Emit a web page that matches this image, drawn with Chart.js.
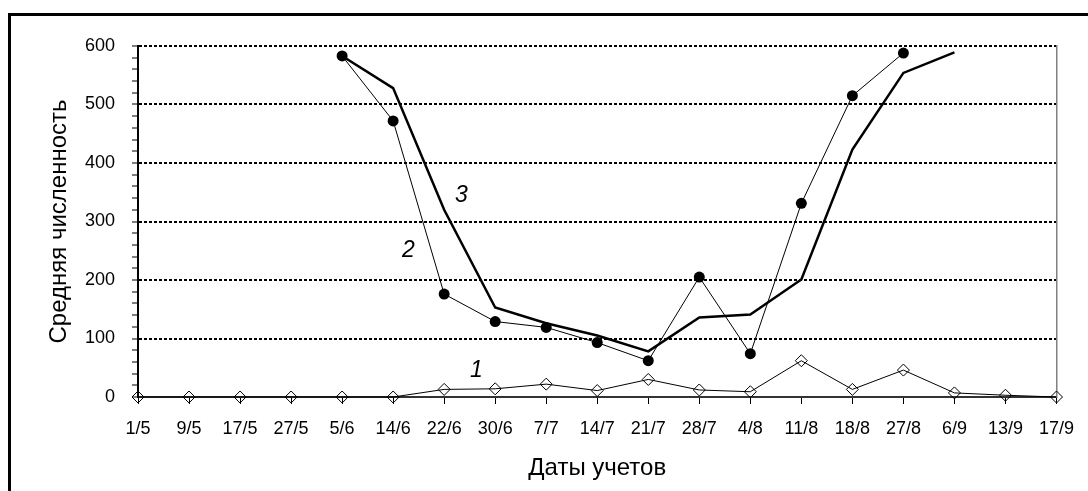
<!DOCTYPE html>
<html>
<head>
<meta charset="utf-8">
<script src="https://cdn.jsdelivr.net/npm/chart.js@4/dist/chart.umd.min.js"></script>
<style>
  html, body { margin: 0; padding: 0; background: #fff; }
  #wrap { position: relative; width: 1088px; height: 491px; overflow: hidden; }
  #frame { position: absolute; left: 8px; top: 13px; width: 2000px; height: 2000px;
           border-left: 3px solid #000; border-top: 3px solid #000; }
  #c { position: absolute; left: 0; top: 0; }
</style>
</head>
<body>
<div id="wrap">
  <div id="frame"></div>
  <canvas id="c" width="1088" height="491"></canvas>
</div>
<script>
// ---- data ----
const dates = ['1/5','9/5','17/5','27/5','5/6','14/6','22/6','30/6','7/7','14/7','21/7','28/7','4/8','11/8','18/8','27/8','6/9','13/9','17/9'];
const series1 = [0,0,0,0,0,0,13,14,22,11,30,12,9,62,13,46,7,3,0];
const series2 = [null,null,null,null,583,472,176,129,119,93,62,205,74,331,515,588,null,null,null];
const series3 = [null,null,null,null,583,528,320,153,126,105,78,136,141,201,423,554,589,null,null];
const yMin = 0, yMax = 600, yMinorStep = 20, yMajorStep = 100;
const curveLabels = [
  { text: '3', at: 6.34, value: 345 },
  { text: '2', at: 5.30, value: 251 },
  { text: '1', at: 6.63, value: 45 }
];
const xTitle = 'Даты учетов';
const yTitle = 'Средняя численность';

const FONT = "'Liberation Sans', Arial, sans-serif";

const curveLabelPlugin = {
  id: 'curveLabels',
  afterDatasetsDraw(chart) {
    const { ctx, scales: { x, y } } = chart;
    ctx.save();
    ctx.fillStyle = '#000';
    ctx.font = "italic 23px " + FONT;
    ctx.textAlign = 'center';
    ctx.textBaseline = 'middle';
    curveLabels.forEach(l => {
      ctx.fillText(l.text, x.getPixelForValue(l.at), y.getPixelForValue(l.value));
    });
    ctx.restore();
  }
};

new Chart(document.getElementById('c'), {
  type: 'line',
  data: {
    labels: dates,
    datasets: [
      {
        label: '1', data: series1,
        borderColor: '#000', borderWidth: 1,
        pointStyle: 'rectRot', pointRadius: 6,
        pointBackgroundColor: 'rgba(255,255,255,0)', pointBorderColor: '#000', pointBorderWidth: 1,
        tension: 0, clip: false
      },
      {
        label: '2', data: series2,
        borderColor: '#000', borderWidth: 1,
        pointStyle: 'circle', pointRadius: 5.5,
        pointBackgroundColor: '#000', pointBorderColor: '#000', pointBorderWidth: 0,
        tension: 0, clip: false, spanGaps: false
      },
      {
        label: '3', data: series3,
        borderColor: '#000', borderWidth: 2.5,
        pointRadius: 0,
        tension: 0, clip: false, spanGaps: false
      }
    ]
  },
  options: {
    responsive: false,
    animation: false,
    events: [],
    layout: { padding: { left: 0, top: 46, right: 27, bottom: 0 } },
    plugins: { legend: { display: false }, tooltip: { enabled: false } },
    scales: {
      x: {
        type: 'category',
        offset: false,
        grid: { drawOnChartArea: false, drawTicks: true, tickLength: 7, tickColor: '#000', tickWidth: 1 },
        border: { color: '#333', width: 2 },
        ticks: { autoSkip: false, maxRotation: 0, minRotation: 0, padding: 14, color: '#000',
                 font: { family: FONT, size: 18 } },
        title: { display: true, text: xTitle, color: '#000', font: { family: FONT, size: 24 }, padding: { top: 0, bottom: 8 } },
        afterFit: s => { s.height = 94; }
      },
      y: {
        min: yMin, max: yMax,
        grid: {
          drawTicks: true, tickLength: 6, tickWidth: 1, tickColor: '#000', tickBorderDash: [],
          lineWidth: 2,
          color: c => (c.tick && c.tick.value > 0 && c.tick.value % yMajorStep === 0) ? '#000' : 'rgba(0,0,0,0)'
        },
        border: { color: '#000', width: 2, dash: [3, 2] },
        ticks: {
          stepSize: yMinorStep, padding: 17, color: '#000', autoSkip: false,
          font: { family: FONT, size: 18 },
          callback: v => (v % yMajorStep === 0 ? String(v) : '')
        },
        title: { display: true, text: yTitle, color: '#000', font: { family: FONT, size: 24 }, padding: { top: 45, bottom: 0 } },
        afterFit: s => { s.width = 138; }
      },
      y2: {
        position: 'right', min: yMin, max: yMax,
        grid: { drawOnChartArea: false, drawTicks: false },
        border: { color: '#808080', width: 1.5 },
        ticks: { display: false },
        afterFit: s => { s.width = 0; }
      }
    }
  },
  plugins: [curveLabelPlugin]
});
</script>
</body>
</html>
